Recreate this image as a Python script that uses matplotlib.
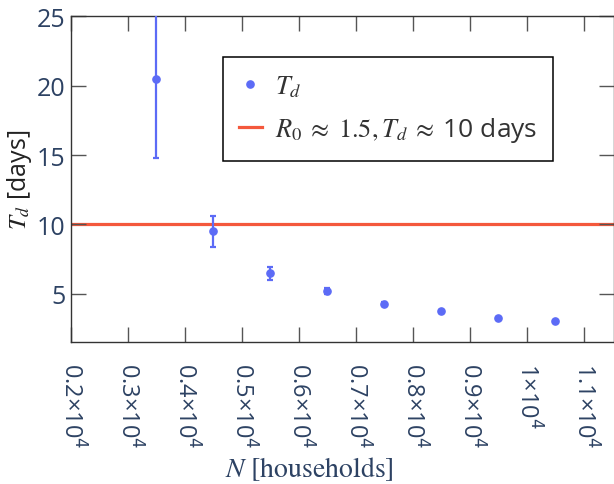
import numpy as np
import matplotlib
matplotlib.use('Agg')
import matplotlib.pyplot as plt
from matplotlib.lines import Line2D

# data
N_households = [3500, 4500, 5500, 6500, 7500, 8500, 9500, 10500]
Td = [20.45, 9.5, 6.47, 5.17, 4.27, 3.72, 3.28, 3.02]
Td_err = [5.65, 1.12, 0.45, 0.22, 0.14, 0.1, 0.06, 0.04]
Td_ref = 10

xticks = [2000, 3000, 4000, 5000, 6000, 7000, 8000, 9000, 10000, 11000]
xtick_labels = ['0.2', '0.3', '0.4', '0.5', '0.6', '0.7', '0.8', '0.9', '1', '1.1']
yticks = [5, 10, 15, 20, 25]

plt.rcParams['font.family'] = ['Open Sans', 'DejaVu Sans']
plt.rcParams['mathtext.fontset'] = 'stix'

txt_col = '#2d4263'
pt_col = '#5c6bf6'
ref_col = '#f4583c'

fig = plt.figure(figsize=(6.14, 4.85), dpi=100)
ax = fig.add_axes([0.1152, 0.2922, 1 - 0.1152, 0.6721])

ax.axhline(Td_ref, color=ref_col, lw=2.3, zorder=1)
ax.errorbar(N_households, Td, yerr=Td_err, fmt='o', color=pt_col, ms=5.2,
            elinewidth=1.6, capsize=2, capthick=1.6, zorder=3)

ax.set_xlim(2000, 11530)
ax.set_ylim(1.5, 25)
ax.set_xticks(xticks)
ax.set_xticklabels([s + '×10$^4$' for s in xtick_labels], rotation=-90,
                   fontsize=17, color=txt_col, math_fontfamily='dejavusans')
ax.set_yticks(yticks)
ax.set_yticklabels([str(v) for v in yticks], fontsize=18, color=txt_col)

ax.tick_params(direction='in', length=10.5, width=1, color='#555555',
               top=True, right=True)
ax.tick_params(axis='x', pad=14)
ax.tick_params(axis='y', pad=4)
for s in ax.spines.values():
    s.set_color('#333333')
    s.set_linewidth(1)

ax.set_ylabel('$T_d$ [days]', fontsize=18, color='#222222', labelpad=2)
ax.set_xlabel(r'$N\ \mathrm{[households]}$', fontsize=20, color=txt_col)
ax.xaxis.set_label_coords(0.44, -0.345)

handles = [Line2D([], [], ls='none', marker='o', ms=5.2, color=pt_col),
           Line2D([], [], color=ref_col, lw=2.3)]
leg = ax.legend(handles, ['$T_d$', r'$R_0\;\approx\;1.5, T_d\;\approx\;$10 days'],
                loc='upper left', bbox_to_anchor=(0.280, 0.875), fontsize=19,
                frameon=True, fancybox=False, framealpha=1, edgecolor='black',
                handlelength=0.85, handletextpad=0.5, borderpad=0.62,
                labelspacing=0.62, borderaxespad=0)
leg.get_frame().set_linewidth(1.1)
for t in leg.get_texts():
    t.set_color('#333333')

fig.savefig('out.png', dpi=100)
